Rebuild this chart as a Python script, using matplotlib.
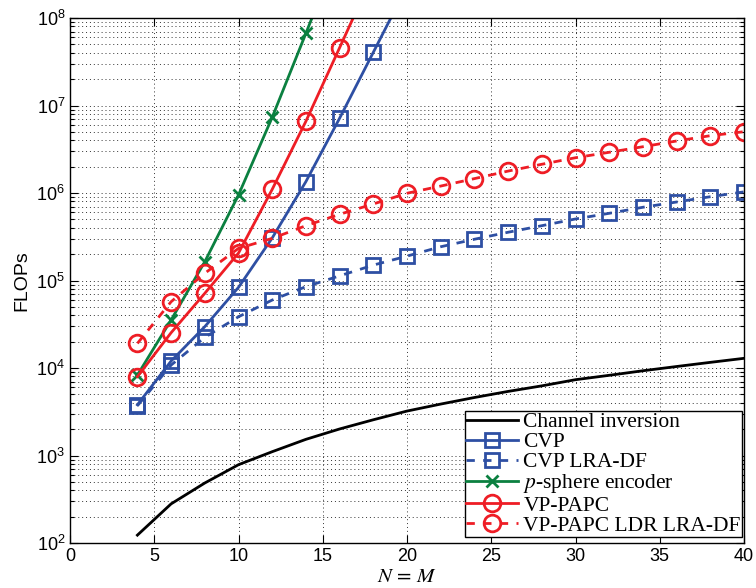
import matplotlib
matplotlib.use("Agg")
import matplotlib.pyplot as plt
from matplotlib.ticker import LogLocator, NullFormatter, MultipleLocator

# complexity (FLOPs) versus system size N = M
n_all = [4, 6, 8, 10, 12, 14, 16, 18, 20, 22, 24, 26, 28, 30, 32, 34, 36, 38, 40]

chan_inv = [123, 280, 485, 785, 1105, 1530, 2010, 2560, 3220, 3870, 4600,
            5400, 6250, 7350, 8250, 9300, 10400, 11600, 12900]

n_cvp = [4, 6, 8, 10, 12, 14, 16, 18, 20]
cvp = [3.8e3, 1.2e4, 2.97e4, 8.35e4, 3.06e5, 1.35e6, 7.15e6, 4.05e7, 2.3e8]

cvp_lra = [3.7e3, 1.08e4, 2.24e4, 3.85e4, 5.98e4, 8.5e4, 1.13e5, 1.5e5, 1.9e5,
           2.43e5, 2.96e5, 3.56e5, 4.23e5, 5.05e5, 5.86e5, 6.87e5, 7.89e5,
           9.07e5, 1.03e6]

n_sph = [4, 6, 8, 10, 12, 14, 16]
sphere = [8.3e3, 3.54e4, 1.64e5, 9.5e5, 7.33e6, 6.68e7, 6.3e8]

n_papc = [4, 6, 8, 10, 12, 14, 16, 18]
papc = [7.96e3, 2.53e4, 7.14e4, 2.06e5, 1.1e6, 6.6e6, 4.57e7, 3.2e8]

papc_lra = [1.91e4, 5.72e4, 1.21e5, 2.33e5, 3.03e5, 4.23e5, 5.71e5, 7.49e5,
            9.93e5, 1.2e6, 1.46e6, 1.78e6, 2.13e6, 2.53e6, 2.92e6, 3.38e6,
            3.93e6, 4.52e6, 5.02e6]

blue = "#2e4fa3"
red = "#ee1d25"
green = "#0b8040"

plt.rcParams["mathtext.fontset"] = "stix"

fig = plt.figure(figsize=(7.56, 5.88), dpi=100)
ax = fig.add_axes([70 / 756, 1 - 543 / 588, 674 / 756, 525 / 588])

lw = 2.0
ax.plot(n_all, chan_inv, color="black", lw=lw, label="Channel inversion")
ax.plot(n_cvp, cvp, color=blue, lw=lw, marker="s", ms=10, mfc="none",
        mew=2, label="CVP")
ax.plot(n_all, cvp_lra, color=blue, lw=lw, ls=(0, (3, 3)), marker="s", ms=10,
        mfc="none", mew=2, label="CVP LRA-DF")
ax.plot(n_sph, sphere, color=green, lw=lw, marker="x", ms=9, mew=2,
        label="$p$-sphere encoder")
ax.plot(n_papc, papc, color=red, lw=lw, marker="o", ms=12, mfc="none",
        mew=2, label="VP-PAPC")
ax.plot(n_all, papc_lra, color=red, lw=lw, ls=(0, (3, 3)), marker="o", ms=12,
        mfc="none", mew=2, label="VP-PAPC LDR LRA-DF")

ax.set_yscale("log")
ax.set_xlim(0, 40)
ax.set_ylim(1e2, 1e8)
ax.xaxis.set_major_locator(MultipleLocator(5))
ax.yaxis.set_major_locator(LogLocator(base=10, numticks=10))
ax.yaxis.set_minor_locator(LogLocator(base=10, subs=range(2, 10), numticks=100))
ax.yaxis.set_minor_formatter(NullFormatter())

grid_kw = dict(color="#333333", lw=0.7, ls=(0, (1, 3)))
ax.grid(True, which="major", axis="both", **grid_kw)
ax.grid(True, which="minor", axis="y", **grid_kw)

ax.tick_params(which="both", direction="in", top=True, right=True,
               labelsize=13, width=0.8)
ax.tick_params(which="major", length=6)
ax.tick_params(which="minor", length=3)
for lab in ax.get_xticklabels() + ax.get_yticklabels():
    lab.set_fontfamily("Liberation Sans")
for sp in ax.spines.values():
    sp.set_linewidth(1.0)

ax.set_ylabel("FLOPs", fontsize=14, family="Liberation Sans", labelpad=4)
ax.set_xlabel(r"$N\,=\,M$", fontsize=15, labelpad=1)

leg = ax.legend(loc="lower right", bbox_to_anchor=(0.9966, 0.012),
                borderaxespad=0, fancybox=False, framealpha=1,
                edgecolor="black", handlelength=2.4, handletextpad=0.25,
                labelspacing=0.0, borderpad=0.05,
                prop={"family": "Liberation Serif", "size": 15.5})
leg.get_frame().set_linewidth(1.0)

fig.savefig("out.png", dpi=100)
